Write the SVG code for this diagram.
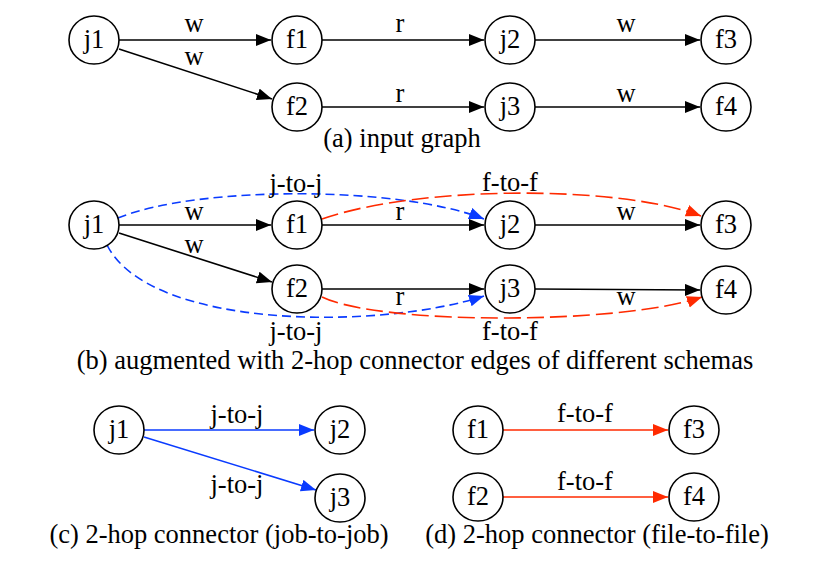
<svg xmlns="http://www.w3.org/2000/svg" width="830" height="564" viewBox="0 0 830 564">
<style>
text{font-family:"Liberation Serif","Times New Roman",serif;font-size:26.5px;fill:#000;text-anchor:middle}
.node ellipse{fill:#fff;stroke:#000;stroke-width:1.6}
.e{fill:none;stroke:#000;stroke-width:1.6}
.b{fill:none;stroke:#0a3bff;stroke-width:1.6}
.r{fill:none;stroke:#ff2a00;stroke-width:1.6}
.bd{stroke-dasharray:9,5}
.rd{stroke-dasharray:17,6}
</style>
<defs>
<marker id="ak" markerUnits="userSpaceOnUse" markerWidth="16" markerHeight="13" refX="15" refY="6" orient="auto"><path d="M0,0 L15,6 L0,12 z" fill="#000"/></marker>
<marker id="ab" markerUnits="userSpaceOnUse" markerWidth="16" markerHeight="13" refX="15" refY="6" orient="auto"><path d="M0,0 L15,6 L0,12 z" fill="#0a3bff"/></marker>
<marker id="ar" markerUnits="userSpaceOnUse" markerWidth="16" markerHeight="13" refX="15" refY="6" orient="auto"><path d="M0,0 L15,6 L0,12 z" fill="#ff2a00"/></marker>
</defs>
<rect width="830" height="564" fill="#fff"/>
<g id="connectors">
<path class="e" d="M119,40 L271,40" marker-end="url(#ak)"/>
<path class="e" d="M119,49 L272,99" marker-end="url(#ak)"/>
<path class="e" d="M322,40 L484,40" marker-end="url(#ak)"/>
<path class="e" d="M322,107 L484,107" marker-end="url(#ak)"/>
<path class="e" d="M535,40 L700,40" marker-end="url(#ak)"/>
<path class="e" d="M535,107 L700,107" marker-end="url(#ak)"/>
<path class="e" d="M119,225 L271,225" marker-end="url(#ak)"/>
<path class="e" d="M119,233 L272,282" marker-end="url(#ak)"/>
<path class="e" d="M322,225 L484,225" marker-end="url(#ak)"/>
<path class="e" d="M322,289 L484,289" marker-end="url(#ak)"/>
<path class="e" d="M535,225 L700,225" marker-end="url(#ak)"/>
<path class="e" d="M535,289 L700,290" marker-end="url(#ak)"/>
<path class="b bd" d="M118,218 C200,185 400,186 484,219" marker-end="url(#ab)"/>
<path class="r rd" d="M322,219 C420,185 620,185 701,216" marker-end="url(#ar)"/>
<path class="b bd" d="M107,245 C150,330 380,330 484,296" marker-end="url(#ab)"/>
<path class="r rd" d="M322,297 C380,325 620,325 702,297" marker-end="url(#ar)"/>
<path class="b" d="M144,430 L314,430" marker-end="url(#ab)"/>
<path class="b" d="M144,437 L316,490" marker-end="url(#ab)"/>
<path class="r" d="M503,430 L668,430" marker-end="url(#ar)"/>
<path class="r" d="M503,497 L668,497" marker-end="url(#ar)"/>
</g>
<g id="edge-labels">
<text x="194" y="32">w</text>
<text x="194" y="65">w</text>
<text x="400" y="32">r</text>
<text x="400" y="102">r</text>
<text x="626" y="32">w</text>
<text x="626" y="102">w</text>
<text x="194" y="220">w</text>
<text x="194" y="253">w</text>
<text x="400" y="220">r</text>
<text x="400" y="305">r</text>
<text x="626" y="220">w</text>
<text x="626" y="305">w</text>
<text x="296" y="192">j-to-j</text>
<text x="510" y="191">f-to-f</text>
<text x="296" y="340">j-to-j</text>
<text x="510" y="340">f-to-f</text>
<text x="237" y="423">j-to-j</text>
<text x="237" y="493">j-to-j</text>
<text x="585" y="422">f-to-f</text>
<text x="585" y="490">f-to-f</text>
</g>
<g id="a-j1" class="node"><ellipse cx="94" cy="40" rx="25" ry="24"/><text x="94" y="48">j1</text></g>
<g id="a-f1" class="node"><ellipse cx="297" cy="40" rx="25" ry="24"/><text x="297" y="48">f1</text></g>
<g id="a-f2" class="node"><ellipse cx="297" cy="107" rx="25" ry="24"/><text x="297" y="115">f2</text></g>
<g id="a-j2" class="node"><ellipse cx="510" cy="40" rx="25" ry="24"/><text x="510" y="48">j2</text></g>
<g id="a-j3" class="node"><ellipse cx="510" cy="107" rx="25" ry="24"/><text x="510" y="115">j3</text></g>
<g id="a-f3" class="node"><ellipse cx="726" cy="40" rx="25" ry="24"/><text x="726" y="48">f3</text></g>
<g id="a-f4" class="node"><ellipse cx="726" cy="107" rx="25" ry="24"/><text x="726" y="115">f4</text></g>
<g id="b-j1" class="node"><ellipse cx="94" cy="225" rx="25" ry="24"/><text x="94" y="233">j1</text></g>
<g id="b-f1" class="node"><ellipse cx="297" cy="225" rx="25" ry="24"/><text x="297" y="233">f1</text></g>
<g id="b-f2" class="node"><ellipse cx="297" cy="289" rx="25" ry="24"/><text x="297" y="297">f2</text></g>
<g id="b-j2" class="node"><ellipse cx="510" cy="225" rx="25" ry="24"/><text x="510" y="233">j2</text></g>
<g id="b-j3" class="node"><ellipse cx="510" cy="289" rx="25" ry="24"/><text x="510" y="297">j3</text></g>
<g id="b-f3" class="node"><ellipse cx="726" cy="225" rx="25" ry="24"/><text x="726" y="233">f3</text></g>
<g id="b-f4" class="node"><ellipse cx="726" cy="290" rx="25" ry="24"/><text x="726" y="298">f4</text></g>
<g id="c-j1" class="node"><ellipse cx="119" cy="430" rx="25" ry="24"/><text x="119" y="438">j1</text></g>
<g id="c-j2" class="node"><ellipse cx="340" cy="430" rx="25" ry="24"/><text x="340" y="438">j2</text></g>
<g id="c-j3" class="node"><ellipse cx="340" cy="498" rx="25" ry="24"/><text x="340" y="506">j3</text></g>
<g id="d-f1" class="node"><ellipse cx="478" cy="430" rx="25" ry="24"/><text x="478" y="438">f1</text></g>
<g id="d-f3" class="node"><ellipse cx="694" cy="430" rx="25" ry="24"/><text x="694" y="438">f3</text></g>
<g id="d-f2" class="node"><ellipse cx="478" cy="497" rx="25" ry="24"/><text x="478" y="505">f2</text></g>
<g id="d-f4" class="node"><ellipse cx="694" cy="497" rx="25" ry="24"/><text x="694" y="505">f4</text></g>
<g id="captions">
<text x="402" y="147">(a) input graph</text>
<text x="415" y="369">(b) augmented with 2-hop connector edges of different schemas</text>
<text x="219" y="543">(c) 2-hop connector (job-to-job)</text>
<text x="597" y="543">(d) 2-hop connector (file-to-file)</text>
</g>
</svg>
